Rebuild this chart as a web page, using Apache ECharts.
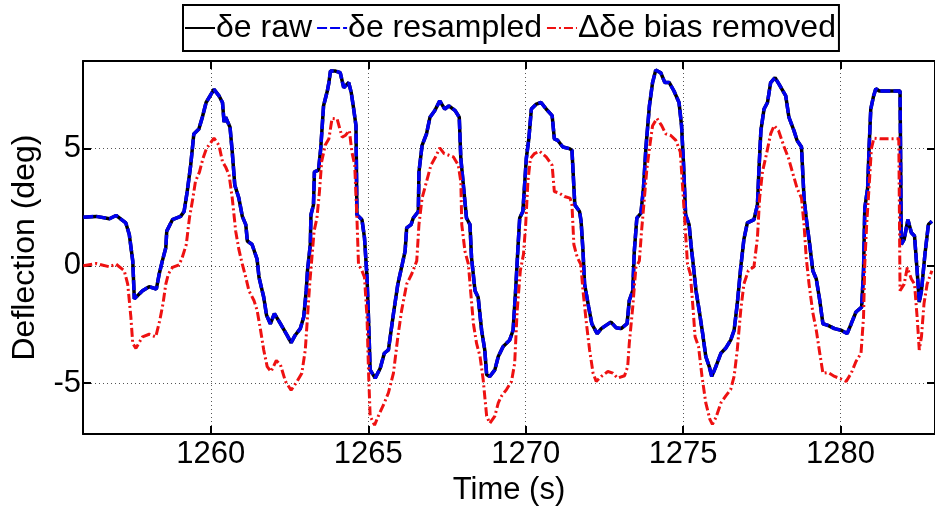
<!DOCTYPE html>
<html><head><meta charset="utf-8">
<script src="https://cdn.jsdelivr.net/npm/echarts@6/dist/echarts.min.js"></script>
<style>html,body{margin:0;padding:0;background:#fff}#c{width:935px;height:511px}</style>
</head><body><div id="c"></div>
<script>
const FONT = "'Liberation Sans', Arial, Helvetica, sans-serif";

// elevator deflection, resampled (raw shares the same samples)
const timeResampled = [1255.95,1256.36,1256.78,1256.99,1257.30,1257.41,1257.52,1257.57,1257.62,1257.83,1258.04,1258.27,1258.36,1258.46,1258.57,1258.60,1258.78,1259.04,1259.15,1259.25,1259.36,1259.46,1259.62,1259.73,1259.85,1260.10,1260.26,1260.37,1260.42,1260.47,1260.61,1260.68,1260.76,1260.89,1261.00,1261.11,1261.16,1261.31,1261.47,1261.53,1261.68,1261.77,1261.89,1262.02,1262.21,1262.42,1262.55,1262.68,1262.84,1262.95,1263.03,1263.07,1263.16,1263.18,1263.26,1263.29,1263.42,1263.49,1263.58,1263.70,1263.75,1263.80,1263.96,1264.11,1264.22,1264.38,1264.46,1264.53,1264.61,1264.64,1264.80,1264.88,1264.96,1265.01,1265.06,1265.22,1265.38,1265.51,1265.64,1265.80,1265.94,1266.08,1266.17,1266.22,1266.36,1266.43,1266.59,1266.61,1266.71,1266.85,1266.96,1267.11,1267.27,1267.43,1267.56,1267.76,1267.89,1267.94,1268.00,1268.12,1268.23,1268.28,1268.39,1268.49,1268.60,1268.70,1268.76,1268.86,1269.02,1269.13,1269.28,1269.49,1269.60,1269.68,1269.76,1269.81,1269.91,1270.02,1270.10,1270.18,1270.34,1270.49,1270.65,1270.84,1270.91,1271.02,1271.18,1271.39,1271.47,1271.56,1271.71,1271.76,1271.82,1271.87,1272.00,1272.10,1272.27,1272.40,1272.55,1272.71,1272.87,1273.03,1273.22,1273.29,1273.40,1273.45,1273.53,1273.66,1273.74,1273.82,1273.93,1274.03,1274.13,1274.29,1274.42,1274.56,1274.71,1274.87,1274.95,1275.01,1275.08,1275.19,1275.25,1275.32,1275.41,1275.51,1275.62,1275.72,1275.83,1275.91,1276.04,1276.20,1276.35,1276.51,1276.62,1276.72,1276.83,1276.93,1277.04,1277.25,1277.36,1277.41,1277.47,1277.57,1277.68,1277.78,1277.92,1278.05,1278.26,1278.36,1278.52,1278.62,1278.76,1278.84,1278.91,1279.02,1279.12,1279.23,1279.34,1279.44,1279.60,1279.81,1280.02,1280.21,1280.34,1280.49,1280.67,1280.73,1280.77,1280.86,1280.91,1280.96,1281.05,1281.12,1281.23,1281.89,1281.93,1282.02,1282.14,1282.25,1282.35,1282.44,1282.50,1282.57,1282.68,1282.79,1282.90];
const deResampled = [2.07,2.11,2.01,2.15,1.83,1.34,0.21,-1.41,-1.48,-1.06,-0.89,-0.99,-0.35,0.21,0.77,1.48,1.97,2.11,2.32,3.17,4.29,5.63,5.84,6.34,6.97,7.53,7.25,6.97,6.13,6.34,5.91,4.86,3.45,2.89,2.11,1.76,1.06,0.91,0.28,-0.49,-1.34,-2.11,-2.47,-2.04,-2.47,-2.96,-3.28,-2.96,-2.68,-2.18,-1.06,-0.21,0.91,2.18,2.60,4.01,4.08,5.00,6.83,7.46,7.82,8.31,8.31,8.24,7.60,7.82,7.39,6.76,5.98,2.18,1.97,1.20,-0.49,-2.32,-4.44,-4.79,-4.37,-3.73,-3.59,-2.04,-0.78,0.07,0.63,1.62,1.76,2.04,2.32,4.01,5.14,5.63,6.34,6.62,7.04,6.69,6.83,6.62,6.34,4.58,3.73,2.04,1.76,0.35,-1.06,-1.34,-2.75,-3.59,-4.65,-4.72,-4.44,-3.87,-3.45,-3.17,-2.75,-1.06,0.91,2.04,2.32,4.58,5.42,6.69,6.90,6.97,6.69,6.41,5.42,5.35,5.07,5.00,4.93,2.60,2.32,1.90,0.63,-0.78,-1.76,-2.47,-2.89,-2.68,-2.54,-2.40,-2.64,-2.68,-2.47,-1.48,-1.06,0.63,2.04,2.25,3.31,5.07,6.83,7.82,8.35,8.24,7.82,7.82,7.46,6.97,5.98,4.44,2.18,1.76,0.91,0.07,-1.06,-1.90,-2.89,-3.87,-4.30,-4.72,-4.30,-3.73,-3.52,-3.17,-2.75,-1.62,-0.07,1.13,1.83,1.97,2.60,4.15,5.77,6.69,6.97,7.82,8.03,7.74,7.25,6.34,5.77,5.35,5.07,2.89,2.04,0.91,-0.21,-0.56,-1.48,-2.47,-2.54,-2.68,-2.75,-2.89,-2.47,-1.97,-1.76,-0.21,2.46,3.31,5.14,6.69,7.25,7.56,7.46,7.46,0.91,1.13,1.97,1.41,1.27,-0.35,-1.55,-1.06,0.49,1.76,1.90];
const timeRaw = timeResampled;
const deRaw = deResampled;

// bias-removed deflection
const timeBias = [1255.95,1256.36,1256.78,1256.99,1257.25,1257.36,1257.46,1257.52,1257.62,1257.83,1258.04,1258.25,1258.38,1258.48,1258.57,1258.65,1258.78,1258.99,1259.09,1259.22,1259.32,1259.43,1259.51,1259.64,1259.75,1259.86,1260.10,1260.26,1260.37,1260.47,1260.58,1260.68,1260.79,1260.89,1261.00,1261.11,1261.21,1261.37,1261.47,1261.58,1261.68,1261.79,1261.91,1262.08,1262.21,1262.37,1262.55,1262.74,1262.89,1263.00,1263.07,1263.14,1263.21,1263.28,1263.37,1263.45,1263.52,1263.63,1263.75,1263.85,1264.01,1264.17,1264.27,1264.40,1264.48,1264.57,1264.64,1264.69,1264.80,1264.88,1264.96,1265.01,1265.06,1265.20,1265.32,1265.51,1265.64,1265.80,1265.94,1266.06,1266.22,1266.38,1266.54,1266.61,1266.71,1266.85,1266.99,1267.14,1267.27,1267.41,1267.56,1267.70,1267.86,1267.94,1267.97,1268.07,1268.18,1268.25,1268.34,1268.44,1268.55,1268.65,1268.76,1268.86,1269.02,1269.13,1269.23,1269.39,1269.55,1269.65,1269.73,1269.83,1269.93,1270.00,1270.07,1270.15,1270.28,1270.44,1270.65,1270.84,1270.91,1271.07,1271.23,1271.41,1271.47,1271.53,1271.64,1271.75,1271.82,1271.93,1272.03,1272.14,1272.24,1272.40,1272.61,1272.77,1272.92,1273.14,1273.24,1273.29,1273.40,1273.50,1273.61,1273.68,1273.77,1273.85,1273.93,1274.03,1274.17,1274.32,1274.45,1274.61,1274.77,1274.91,1274.98,1275.06,1275.14,1275.23,1275.32,1275.38,1275.49,1275.60,1275.72,1275.85,1275.93,1276.04,1276.20,1276.35,1276.51,1276.62,1276.72,1276.83,1276.93,1277.07,1277.25,1277.36,1277.43,1277.52,1277.64,1277.78,1277.89,1278.03,1278.21,1278.35,1278.47,1278.62,1278.76,1278.84,1278.91,1279.00,1279.12,1279.23,1279.34,1279.44,1279.60,1279.81,1280.02,1280.18,1280.34,1280.49,1280.65,1280.73,1280.77,1280.83,1280.91,1280.98,1281.06,1281.27,1281.85,1281.89,1282.02,1282.12,1282.25,1282.35,1282.44,1282.50,1282.57,1282.65,1282.75,1282.90];
const deBias = [0.00,0.10,-0.04,0.07,-0.21,-0.78,-2.18,-3.31,-3.52,-3.03,-2.92,-3.03,-2.32,-1.62,-0.78,-0.35,-0.07,0.04,0.35,0.91,2.04,2.89,3.59,4.01,4.58,5.00,5.45,5.14,4.44,4.22,3.87,2.89,1.48,0.70,0.07,-0.49,-1.06,-1.48,-1.90,-2.75,-3.59,-4.30,-4.51,-4.04,-4.22,-4.93,-5.31,-4.93,-4.58,-3.59,-2.18,-0.78,0.35,1.48,2.04,3.17,4.44,5.14,5.42,6.29,6.27,5.49,5.56,5.77,4.86,4.29,2.04,0.07,-0.21,-0.49,-2.18,-4.58,-6.41,-6.80,-6.41,-5.85,-5.42,-4.58,-3.03,-1.90,-0.78,-0.35,0.21,1.76,2.89,3.59,4.29,4.65,5.03,4.79,4.72,4.65,4.29,3.59,1.76,0.63,0.07,-1.06,-2.47,-3.31,-3.87,-4.86,-6.41,-6.72,-6.41,-5.85,-5.56,-5.28,-4.93,-4.16,-1.90,-0.21,0.49,1.76,3.59,4.58,4.79,4.89,4.65,4.29,3.17,3.10,2.96,2.89,2.60,0.91,0.35,0.07,-1.06,-2.47,-3.59,-4.58,-4.93,-4.72,-4.51,-4.58,-4.79,-4.69,-4.30,-3.31,-1.76,-0.07,0.21,1.48,2.89,4.15,5.00,5.98,6.29,5.98,5.63,5.56,5.35,4.86,3.45,1.76,0.07,-0.35,-1.90,-3.03,-3.45,-4.72,-5.85,-6.55,-6.76,-6.48,-5.85,-5.56,-5.28,-4.72,-3.59,-1.90,-0.78,-0.21,-0.04,1.20,2.89,4.01,4.72,5.63,5.98,5.77,5.07,4.58,4.01,3.31,2.89,1.76,0.35,-0.78,-2.00,-2.75,-3.73,-4.58,-4.55,-4.72,-4.83,-4.93,-4.58,-4.08,-3.73,-2.18,0.07,1.76,3.45,5.00,5.45,5.42,5.42,-1.06,-0.78,-0.07,-0.56,-0.78,-2.32,-3.59,-3.03,-1.62,-0.78,-0.21];

const seriesNames = ['\u03B4e raw', '\u03B4e resampled', '\u0394\u03B4e bias removed'];
const X_MIN = 1255.94, X_MAX = 1283.0;
const Y_MIN = -7.18, Y_MAX = 8.74;

const pairs = (t, v) => t.map((x, i) => [x, v[i]]);
const chart = echarts.init(document.getElementById('c'), null, {renderer: 'canvas'});

const tickStyle = {inside: true, length: 8, lineStyle: {color: '#000', width: 2}};
const lineAx = {onZero: false, lineStyle: {color: '#000', width: 2}};
const grid = {show: true, lineStyle: {color: '#555', type: [1, 3], width: 1}};
const lab = (v) => (Math.abs(v % 5) < 1e-9 ? String(v) : '');
const TRANSP = 'rgba(0,0,0,0)';

chart.setOption({
  animation: false,
  backgroundColor: '#fff',
  grid: {left: 83, right: -5, top: 61, bottom: 73},
  legend: {
    left: 183, top: 5,
    data: seriesNames,
    itemWidth: 30, itemHeight: 14, itemGap: 4,
    padding: [7, 3, 7, 1],
    itemStyle: {color: TRANSP, borderColor: TRANSP, borderWidth: 0},
    borderColor: '#000', borderWidth: 2, backgroundColor: '#fff',
    textStyle: {fontSize: 32, color: '#000', fontFamily: FONT, padding: [0, 0, 0, -4]}
  },
  xAxis: [
    {type: 'value', position: 'bottom', min: X_MIN, max: X_MAX, splitNumber: 5,
     axisLine: lineAx, axisTick: tickStyle, splitLine: grid,
     axisLabel: {color: '#000', fontSize: 31, fontFamily: FONT, margin: 5, showMinLabel: false, showMaxLabel: false, formatter: lab},
     name: 'Time (s)', nameLocation: 'middle', nameGap: 34,
     nameTextStyle: {color: '#000', fontSize: 31, fontFamily: FONT}},
    {type: 'value', position: 'top', min: X_MIN, max: X_MAX, splitNumber: 5,
     axisLine: lineAx, axisTick: tickStyle, splitLine: {show: false}, axisLabel: {show: false}}
  ],
  yAxis: [
    {type: 'value', position: 'left', min: Y_MIN, max: Y_MAX, splitNumber: 3,
     axisLine: lineAx, axisTick: tickStyle, splitLine: grid,
     axisLabel: {color: '#000', fontSize: 31, fontFamily: FONT, margin: 2, showMinLabel: false, showMaxLabel: false, formatter: lab},
     name: 'Deflection (deg)', nameLocation: 'middle', nameGap: 42,
     nameTextStyle: {color: '#000', fontSize: 32, fontFamily: FONT}},
    {type: 'value', position: 'right', min: Y_MIN, max: Y_MAX, splitNumber: 3,
     axisLine: lineAx, axisTick: tickStyle, splitLine: {show: false}, axisLabel: {show: false}}
  ],
  series: [
    {name: seriesNames[0], type: 'line', data: pairs(timeRaw, deRaw), symbol: 'none',
     lineStyle: {color: '#000', width: 3.5, type: 'solid'}},
    {name: seriesNames[1], type: 'line', data: pairs(timeResampled, deResampled), symbol: 'none',
     lineStyle: {color: '#0000ee', width: 3.5, type: [10, 3]}},
    {name: seriesNames[2], type: 'line', data: pairs(timeBias, deBias), symbol: 'none',
     lineStyle: {color: '#ee1111', width: 3, type: [9, 3, 2, 3]}}
  ]
});
</script></body></html>
